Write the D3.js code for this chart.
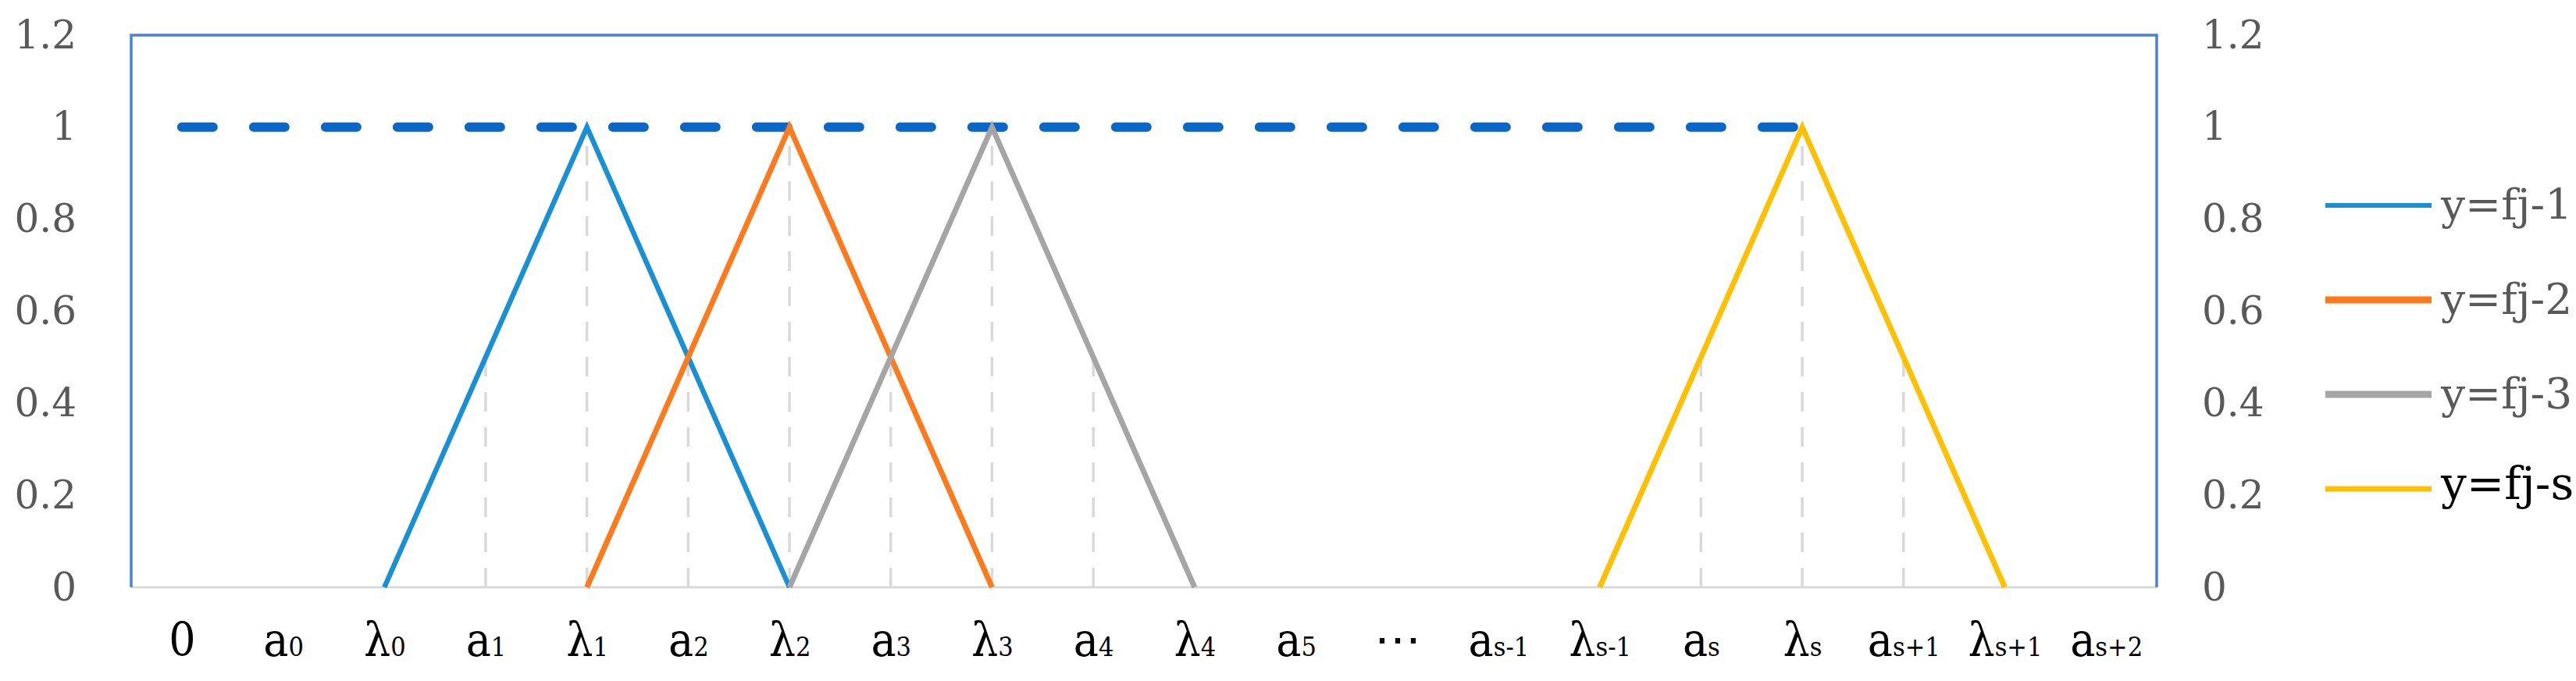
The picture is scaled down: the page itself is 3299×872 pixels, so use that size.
<!DOCTYPE html>
<html>
<head>
<meta charset="utf-8">
<script src="https://cdn.jsdelivr.net/npm/d3@7"></script>
<style>
  body { margin: 0; background: #fff; }
  svg { display: block; }
  svg text { font-family: "DejaVu Serif", serif; }
  svg .xlab { font-family: "DejaVu Serif Condensed", "DejaVu Serif", serif; }
</style>
</head>
<body>
<div id="chart"></div>
<script>
const width = 3299
const height = 872

// category labels: base glyph + subscript
const catBase = ["0", "a", "λ", "a", "λ", "a", "λ", "a", "λ", "a", "λ", "a", "⋯", "a", "λ", "a", "λ", "a", "λ", "a"]
const catSub = ["", "0", "0", "1", "1", "2", "2", "3", "3", "4", "4", "5", "", "s-1", "s-1", "s", "s", "s+1", "s+1", "s+2"]

// series values per category (null = no point)
const N = null
const levelOne = [1, 1, 1, 1, 1, 1, 1, 1, 1, 1, 1, 1, 1, 1, 1, 1, 1, N, N, N]
const fj1 = [N, N, 0, 0.5, 1, 0.5, 0, N, N, N, N, N, N, N, N, N, N, N, N, N]
const fj2 = [N, N, N, N, 0, 0.5, 1, 0.5, 0, N, N, N, N, N, N, N, N, N, N, N]
const fj3 = [N, N, N, N, N, N, 0, 0.5, 1, 0.5, 0, N, N, N, N, N, N, N, N, N]
const fjs = [N, N, N, N, N, N, N, N, N, N, N, N, N, N, 0, 0.5, 1, 0.5, 0, N]

const seriesNames = ["y=fj-1", "y=fj-2", "y=fj-3", "y=fj-s"]
const seriesColors = ["#1a90d4", "#ff7a1c", "#a5a5a5", "#ffc000"]
const seriesWidths = [6.5, 7, 7, 7]
const yTicks = [0, 0.2, 0.4, 0.6, 0.8, 1, 1.2]

const plotL = 168, plotR = 2762, plotT = 45, plotB = 752

const svg = d3.select("#chart").append("svg")
  .attr("width", width)
  .attr("height", height)

const x = d3.scalePoint()
  .domain(d3.range(catBase.length))
  .range([plotL, plotR])
  .padding(0.5)

const y = d3.scaleLinear().domain([0, 1.2]).range([plotB, plotT])

const allSeries = [fj1, fj2, fj3, fjs]

// drop lines: from highest triangle value down to the axis
const drops = d3.range(catBase.length).map(i => {
  const vals = allSeries.map(s => s[i]).filter(v => v != null)
  return { i: i, v: vals.length ? d3.max(vals) : 0 }
}).filter(d => d.v > 0)

svg.append("g").selectAll("line")
  .data(drops)
  .join("line")
    .attr("x1", d => x(d.i))
    .attr("x2", d => x(d.i))
    .attr("y1", y(0))
    .attr("y2", d => y(d.v))
    .attr("stroke", "#d9d9d9")
    .attr("stroke-width", 3.5)
    .attr("stroke-dasharray", "25 20")

// baseline + frame
svg.append("line")
  .attr("x1", plotL).attr("x2", plotR)
  .attr("y1", y(0)).attr("y2", y(0))
  .attr("stroke", "#d9d9d9")
  .attr("stroke-width", 3)

svg.append("path")
  .attr("d", `M${plotL},${plotB}V${plotT}H${plotR}V${plotB}`)
  .attr("fill", "none")
  .attr("stroke", "#4a80d8")
  .attr("stroke-width", 3.5)

const line = d3.line()
  .defined(d => d.v != null)
  .x(d => x(d.i))
  .y(d => y(d.v))

const toPts = arr => arr.map((v, i) => ({ i: i, v: v }))

// dashed level line at 1
svg.append("path")
  .datum(toPts(levelOne))
  .attr("d", line)
  .attr("fill", "none")
  .attr("stroke", "#0a66c8")
  .attr("stroke-width", 12)
  .attr("stroke-linecap", "round")
  .attr("stroke-dasharray", "40 52")

svg.append("g").selectAll("path")
  .data(allSeries)
  .join("path")
    .attr("d", d => line(toPts(d)))
    .attr("fill", "none")
    .attr("stroke", (d, k) => seriesColors[k])
    .attr("stroke-width", (d, k) => seriesWidths[k])
    .attr("stroke-linejoin", "miter")

// y axes
const fmt = d => String(+d.toFixed(1))

const yl = svg.append("g")
  .attr("transform", "translate(104,0)")
  .call(d3.axisLeft(y).tickValues(yTicks).tickSize(0).tickPadding(6).tickFormat(fmt))
const yr = svg.append("g")
  .attr("transform", "translate(2814,0)")
  .call(d3.axisRight(y).tickValues(yTicks).tickSize(0).tickPadding(6).tickFormat(fmt))

svg.selectAll(".domain").remove()
;[yl, yr].forEach(g => g.selectAll("text")
  .style("font-size", "50px")
  .attr("fill", "#595959"))

// x axis with subscripts
const xa = svg.append("g")
  .attr("transform", `translate(0,${plotB})`)
  .call(d3.axisBottom(x).tickSize(0).tickFormat(""))
xa.select(".domain").remove()
xa.selectAll(".tick text").remove()
xa.selectAll(".tick").append("text")
  .attr("class", "xlab")
  .attr("y", 88)
  .attr("text-anchor", "middle")
  .style("font-size", "60px")
  .attr("fill", "#000")
  .each(function (i) {
    const t = d3.select(this)
    t.append("tspan").text(catBase[i])
    if (catSub[i]) t.append("tspan").style("font-size", "34px").text(catSub[i])
  })

// legend
const lg = svg.append("g").selectAll("g")
  .data(seriesNames)
  .join("g")
    .attr("transform", (d, k) => `translate(2978,${263 + k * 121})`)

lg.append("line")
  .attr("x1", 0).attr("x2", 136)
  .attr("stroke", (d, k) => seriesColors[k])
  .attr("stroke-width", (d, k) => [6, 9, 9, 7][k])

lg.append("text")
  .attr("x", 148)
  .attr("dy", "0.32em")
  .style("font-size", (d, k) => k === 3 ? "58px" : "55px")
  .attr("fill", (d, k) => k === 3 ? "#000" : "#595959")
  .attr("y", (d, k) => k === 3 ? -6 : 0)
  .text(d => d)
</script>
</body>
</html>
